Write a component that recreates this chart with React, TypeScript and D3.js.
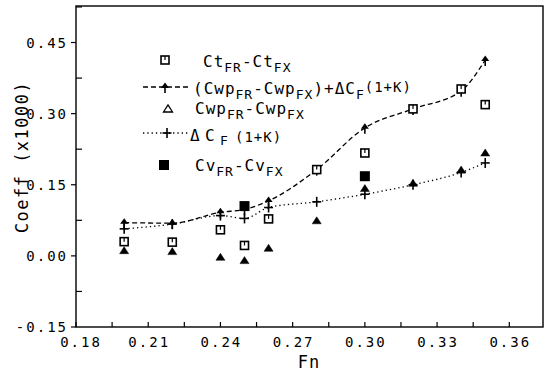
import React from 'react';
import * as d3 from 'd3';

// Froude numbers where the measurements were taken
const fn = [0.2, 0.22, 0.24, 0.25, 0.26, 0.28, 0.3, 0.32, 0.34, 0.35];
// Ct_FR - Ct_FX (open squares)
const ctDiff = [0.03, 0.029, 0.055, 0.022, 0.078, 0.182, 0.217, 0.31, 0.352, 0.319];
// (Cwp_FR - Cwp_FX) + dCF(1+K) (dashed line, arrow markers)
const cwpPlusCf = [0.07, 0.069, 0.092, 0.098, 0.116, 0.182, 0.27, 0.31, 0.348, 0.413];
// Cwp_FR - Cwp_FX (triangles)
const cwpDiff = [0.011, 0.009, -0.003, -0.01, 0.016, 0.074, 0.142, 0.153, 0.181, 0.217];
// dCF(1+K) (dotted line, plus markers)
const cfDiff = [0.057, 0.067, 0.085, 0.079, 0.102, 0.114, 0.13, 0.15, 0.176, 0.196];
// Cv_FR - Cv_FX (filled squares)
const cvFn = [0.25, 0.3];
const cvDiff = [0.105, 0.168];

const xTicks = [0.18, 0.21, 0.24, 0.27, 0.3, 0.33, 0.36];
const yTicks = [-0.15, 0, 0.15, 0.3, 0.45];

const W = 551;
const H = 371;
const MONO = '"DejaVu Sans Mono", monospace';

const x = d3.scaleLinear().domain([0.18, 0.374]).range([76, 543]);
const y = d3.scaleLinear().domain([-0.15, 0.527]).range([327, 6]);

const triPath = 'M-4.5,3L0,-4L4.5,3Z';

const Arrow = ({ cx, cy }) => (
  <g transform={`translate(${cx},${cy})`}>
    <path d="M-4,1L0,-4.5L4,1Z" fill="#000" />
    <line x1={0} x2={0} y1={0} y2={6} stroke="#000" strokeWidth={1.6} />
  </g>
);
const OpenSquare = ({ cx, cy }) => (
  <g transform={`translate(${cx},${cy})`}>
    <rect x={-4} y={-4} width={8} height={8} fill="#fff" stroke="#000" strokeWidth={1.6} />
    <line x1={0} x2={0} y1={-4} y2={0} stroke="#000" strokeWidth={1.2} />
  </g>
);
const Tri = ({ cx, cy, open = false }) => (
  <path
    transform={`translate(${cx},${cy})`}
    d={triPath}
    fill={open ? '#fff' : '#000'}
    stroke="#000"
    strokeWidth={open ? 1.3 : 0.5}
  />
);
const Plus = ({ cx, cy }) => (
  <g transform={`translate(${cx},${cy})`} stroke="#000" strokeWidth={1.6}>
    <line x1={-4.5} x2={4.5} y1={0} y2={0} />
    <line x1={0} x2={0} y1={-5} y2={5} />
  </g>
);
const FillSquare = ({ cx, cy }) => (
  <rect x={cx - 5} y={cy - 5} width={10} height={10} fill="#000" />
);

const Sub = ({ children }) => (
  <tspan fontSize={13} dy={5}>{children}</tspan>
);
const Up = ({ children }) => <tspan dy={-5}>{children}</tspan>;

export default function App() {
  const curveLine = d3
    .line<number>()
    .x((d, i) => x(fn[i]))
    .y((d) => y(d))
    .curve(d3.curveMonotoneX);

  const minorX = d3.range(0.18, 0.3701, 0.015);
  const minorY = d3.range(-0.075, 0.526, 0.15);

  return (
    <svg
      width={W}
      height={H}
      style={{ position: 'absolute', left: 0, top: 0, background: '#fff' }}
      fontFamily={MONO}
    >
      {/* frame */}
      <rect
        x={x.range()[0]}
        y={y.range()[1]}
        width={x.range()[1] - x.range()[0]}
        height={y.range()[0] - y.range()[1]}
        fill="none"
        stroke="#000"
        strokeWidth={1.4}
      />

      {/* y axis ticks and labels */}
      {yTicks.map((t) => (
        <g key={t}>
          <line x1={71} x2={76} y1={y(t)} y2={y(t)} stroke="#000" strokeWidth={1.2} />
          <text x={68} y={y(t) + 5} textAnchor="end" fontSize={14} letterSpacing={2}>
            {t.toFixed(2)}
          </text>
        </g>
      ))}
      {minorY.map((t) => (
        <line key={t} x1={76} x2={82} y1={y(t)} y2={y(t)} stroke="#000" strokeWidth={1.2} />
      ))}

      {/* x axis ticks and labels */}
      {minorX.map((t) => (
        <line key={t} x1={x(t)} x2={x(t)} y1={327} y2={322} stroke="#000" strokeWidth={1.2} />
      ))}
      {xTicks.map((t) => (
        <text key={t} x={x(t) + (t === 0.18 ? 5 : 1)} y={347} textAnchor="middle" fontSize={14} letterSpacing={2}>
          {t.toFixed(2)}
        </text>
      ))}

      <text x={309} y={368} textAnchor="middle" fontSize={17} letterSpacing={1}>
        Fn
      </text>
      <text
        transform="translate(28,157) rotate(-90)"
        textAnchor="middle"
        fontSize={17}
        letterSpacing={1.5}
      >
        Coeff (x1000)
      </text>

      {/* lines */}
      <path d={curveLine(cwpPlusCf) || ''} fill="none" stroke="#000" strokeWidth={1.3} strokeDasharray="5,3" />
      <path d={curveLine(cfDiff) || ''} fill="none" stroke="#000" strokeWidth={1.3} strokeDasharray="1.3,3" />

      {/* markers */}
      {fn.map((f, i) => (
        <g key={f}>
          <Plus cx={x(f)} cy={y(cfDiff[i])} />
          <Tri cx={x(f)} cy={y(cwpDiff[i])} />
          <Arrow cx={x(f)} cy={y(cwpPlusCf[i])} />
          <OpenSquare cx={x(f)} cy={y(ctDiff[i])} />
        </g>
      ))}
      {cvFn.map((f, i) => (
        <FillSquare key={f} cx={x(f)} cy={y(cvDiff[i])} />
      ))}

      {/* legend */}
      <g fontSize={16} letterSpacing={1}>
        <OpenSquare cx={165} cy={60} />
        <text x={203} y={67}>
          Ct<Sub>FR</Sub><Up>-Ct</Up><Sub>FX</Sub>
        </text>

        <line x1={143} x2={190} y1={87} y2={87} stroke="#000" strokeWidth={1.3} strokeDasharray="5,3" />
        <Arrow cx={165} cy={87} />
        <text x={193} y={94}>
          (Cwp<Sub>FR</Sub><Up>-Cwp</Up><Sub>FX</Sub><Up>)+ΔC</Up><Sub>F</Sub>
          <tspan fontSize={14} dy={-7}>(1+K)</tspan>
        </text>

        <Tri cx={168} cy={109} open />
        <text x={195} y={114}>
          Cwp<Sub>FR</Sub><Up>-Cwp</Up><Sub>FX</Sub>
        </text>

        <line x1={143} x2={190} y1={133} y2={133} stroke="#000" strokeWidth={1.3} strokeDasharray="1.3,3" />
        <Plus cx={167} cy={133} />
        <text x={190} y={141}>
          <tspan x={190}>Δ</tspan>
          <tspan x={205}>C</tspan>
          <tspan x={220} fontSize={13} dy={4}>F</tspan>
          <tspan x={235} fontSize={14} dy={-3}>(1+K)</tspan>
        </text>

        <FillSquare cx={164} cy={165} />
        <text x={195} y={171}>
          Cv<Sub>FR</Sub><Up>-Cv</Up><Sub>FX</Sub>
        </text>
      </g>
    </svg>
  );
}
